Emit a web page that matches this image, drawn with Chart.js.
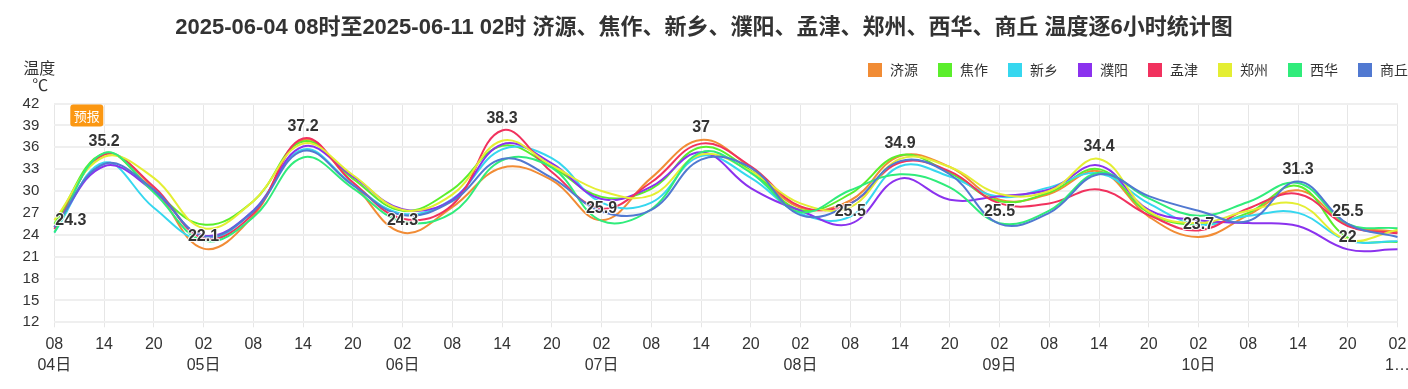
<!DOCTYPE html>
<html>
<head>
<meta charset="utf-8">
<script src="https://cdn.jsdelivr.net/npm/chart.js@4/dist/chart.umd.min.js"></script>
<style>
  html, body { margin: 0; padding: 0; background: #fff; }
  #wrap { position: relative; width: 1408px; height: 389px; }
</style>
</head>
<body>
<div id="wrap"><canvas id="tempChart"></canvas></div>
<script>
// 标题与横轴刻度
const chartTitle = '2025-06-04 08时至2025-06-11 02时 济源、焦作、新乡、濮阳、孟津、郑州、西华、商丘 温度逐6小时统计图';
const tickLabels = [
    ['08', '04日'], '14', '20',
    ['02', '05日'], '08', '14', '20',
    ['02', '06日'], '08', '14', '20',
    ['02', '07日'], '08', '14', '20',
    ['02', '08日'], '08', '14', '20',
    ['02', '09日'], '08', '14', '20',
    ['02', '10日'], '08', '14', '20',
    ['02', '1…']
];
const yTicks = [12, 15, 18, 21, 24, 27, 30, 33, 36, 39, 42];

// 各站温度 (℃)
const stations = ['济源', '焦作', '新乡', '濮阳', '孟津', '郑州', '西华', '商丘'];
const jiyuan   = [25.0, 35.0, 30.3, 22.1, 26.6, 37.0, 31.0, 24.3, 27.8, 33.2, 31.5, 26.0, 31.8, 37.0, 33.2, 27.7, 28.7, 34.8, 33.3, 28.8, 29.6, 32.7, 26.5, 23.7, 26.7, 30.1, 25.4, 24.4];
const jiaozuo  = [25.5, 35.2, 30.0, 25.4, 28.6, 36.8, 31.7, 27.3, 30.2, 36.2, 33.3, 29.2, 30.3, 36.0, 32.8, 27.4, 29.6, 34.9, 32.5, 28.6, 29.8, 33.0, 27.0, 25.4, 27.0, 30.7, 23.6, 23.0];
const xinxiang = [24.3, 33.9, 27.7, 23.3, 27.3, 35.7, 30.9, 26.9, 28.9, 35.7, 34.5, 28.4, 28.4, 34.8, 31.8, 26.9, 26.5, 33.4, 32.0, 29.2, 30.5, 32.4, 28.3, 25.4, 26.6, 27.0, 23.2, 23.1];
const puyang   = [25.0, 33.4, 30.0, 23.9, 27.3, 36.1, 32.0, 27.5, 28.8, 36.4, 33.8, 28.9, 30.6, 35.3, 30.4, 27.3, 25.5, 31.7, 28.8, 29.3, 30.2, 33.5, 27.4, 26.0, 25.6, 25.2, 22.0, 22.0];
const mengjin  = [24.8, 35.0, 30.6, 23.5, 26.9, 37.2, 31.2, 26.2, 28.1, 38.3, 32.6, 27.6, 31.2, 36.5, 33.4, 27.9, 28.3, 33.9, 32.7, 28.3, 28.3, 30.2, 26.7, 24.6, 27.6, 29.6, 25.2, 24.2];
const zhengzhou= [26.0, 34.7, 31.8, 24.9, 28.6, 36.5, 32.2, 27.4, 29.5, 36.9, 33.5, 30.0, 29.4, 35.0, 32.7, 28.3, 27.8, 34.4, 33.3, 29.6, 30.0, 34.4, 27.2, 25.6, 27.3, 28.2, 23.3, 24.7];
const xihua    = [24.3, 35.2, 29.8, 23.2, 26.4, 34.6, 30.4, 25.8, 27.0, 34.2, 33.2, 25.9, 27.5, 35.3, 32.5, 27.1, 30.1, 32.3, 30.5, 25.6, 27.3, 32.5, 29.0, 26.6, 28.5, 31.1, 25.5, 24.9];
const shangqiu = [25.0, 33.7, 30.2, 23.8, 27.2, 35.5, 30.8, 26.7, 28.6, 34.4, 31.8, 27.2, 27.4, 34.3, 33.2, 26.7, 28.2, 34.1, 32.3, 25.5, 27.0, 32.3, 29.3, 27.3, 25.9, 31.3, 25.5, 23.7];
const seriesValues = [jiyuan, jiaozuo, xinxiang, puyang, mengjin, zhengzhou, xihua, shangqiu];

// 极值标注 (时次序号, 数值)
const markIndex = [0, 1, 3, 5, 7, 9, 11, 13, 16, 17, 19, 21, 23, 25, 26, 26];
const markValue = [24.3, 35.2, 22.1, 37.2, 24.3, 38.3, 25.9, 37, 25.5, 34.9, 25.5, 34.4, 23.7, 31.3, 25.5, 22];

const colors = ['#f18c35', '#5bee2c', '#36d7ef', '#8b32ee', '#f1325e', '#e4ee33', '#30ec7b', '#5179d1'];
const FONT = "'Liberation Sans', 'Noto Sans CJK SC', sans-serif";
const CJK = "'Noto Sans CJK SC', sans-serif";
const TEXT = '#333';

// 标题、图例、单位、预报标签、极值标注
const decorPlugin = {
    id: 'decor',
    afterDatasetsDraw(chart) {
        const { ctx, chartArea, scales } = chart;
        ctx.save();
        ctx.font = 'bold 16px ' + FONT;
        ctx.textAlign = 'center';
        ctx.textBaseline = 'middle';
        ctx.lineJoin = 'round';
        markIndex.forEach((idx, i) => {
            const txt = String(markValue[i]);
            const w = ctx.measureText(txt).width;
            let x = scales.x.getPixelForValue(idx);
            x = Math.max(x, chartArea.left + w / 2 + 1);
            x = Math.min(x, chartArea.right - w / 2 - 1);
            const y = scales.y.getPixelForValue(markValue[i]) - 12;
            ctx.strokeStyle = 'rgba(255,255,255,0.9)';
            ctx.lineWidth = 2;
            ctx.strokeText(txt, x, y);
            ctx.fillStyle = TEXT;
            ctx.fillText(txt, x, y);
        });
        ctx.restore();
    },
    afterDraw(chart) {
        const { ctx, chartArea, width } = chart;
        ctx.save();
        // 标题
        ctx.fillStyle = TEXT;
        ctx.font = 'bold 22px ' + FONT;
        ctx.textAlign = 'center';
        ctx.textBaseline = 'middle';
        ctx.fillText(chartTitle, width / 2, 28);

        // 图例
        ctx.font = '14px ' + FONT;
        ctx.textAlign = 'left';
        const box = 14, gap = 8, spacing = 20;
        const widths = stations.map(s => box + gap + ctx.measureText(s).width);
        let x = width - widths.reduce((a, b) => a + b, 0) - spacing * (stations.length - 1);
        stations.forEach((s, i) => {
            ctx.fillStyle = colors[i];
            ctx.fillRect(x, 63, box, box);
            ctx.fillStyle = TEXT;
            ctx.fillText(s, x + box + gap, 71);
            x += widths[i] + spacing;
        });

        // 纵轴单位
        ctx.font = '16px ' + CJK;
        ctx.textAlign = 'center';
        ctx.fillText('温度', chartArea.left - 15, 68);
        ctx.fillText('℃', chartArea.left - 14, 85);

        // 预报
        const bx = chartArea.left + 16, by = chartArea.top + 1, bw = 33, bh = 22;
        ctx.fillStyle = '#fb9712';
        ctx.beginPath();
        ctx.roundRect(bx, by, bw, bh, 3);
        ctx.fill();
        ctx.fillStyle = '#fff';
        ctx.font = '13px ' + CJK;
        ctx.fillText('预报', bx + bw / 2, by + bh / 2 + 1);
        ctx.restore();
    }
};

const datasets = stations.map((name, i) => ({
    label: name,
    data: seriesValues[i],
    borderColor: colors[i],
    backgroundColor: colors[i],
    borderWidth: 2,
    pointRadius: 0,
    pointHoverRadius: 0,
    tension: 0.4,
    fill: false,
    order: stations.length - i
}));

new Chart(document.getElementById('tempChart'), {
    type: 'line',
    data: { labels: tickLabels, datasets },
    options: {
        responsive: true,
        maintainAspectRatio: false,
        animation: false,
        layout: { padding: { top: 103.5, right: 0, bottom: 0, left: 0 } },
        plugins: {
            legend: { display: false },
            title: { display: false },
            tooltip: { enabled: false }
        },
        scales: {
            x: {
                offset: false,
                afterFit: scale => { scale.height = 66.7; scale.paddingRight = 10.5; },
                grid: { color: '#e6e6e6', lineWidth: 1, tickLength: 5, drawTicks: true },
                border: { display: false },
                ticks: {
                    autoSkip: false,
                    maxRotation: 0,
                    padding: 7,
                    color: TEXT,
                    font: { family: FONT, size: 16, lineHeight: '21px' }
                }
            },
            y: {
                min: 12,
                max: 42,
                afterFit: scale => { scale.width = 54.3; },
                afterBuildTicks: scale => { scale.ticks = yTicks.map(v => ({ value: v })); },
                grid: { color: '#efefef', lineWidth: 2, drawTicks: false },
                border: { display: false },
                ticks: {
                    padding: 15,
                    color: TEXT,
                    font: { family: FONT, size: 15 }
                }
            }
        }
    },
    plugins: [decorPlugin]
});
</script>
</body>
</html>
